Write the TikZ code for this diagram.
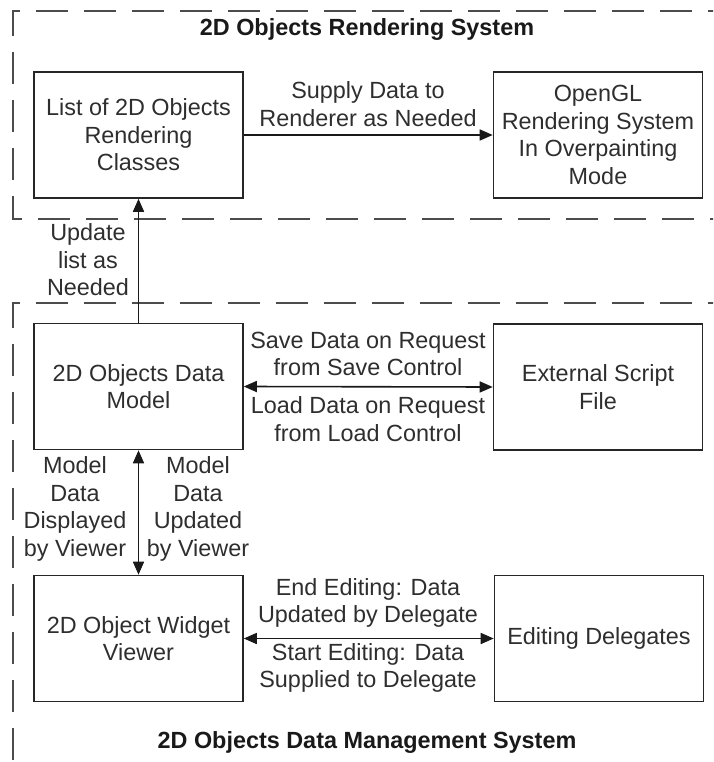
\documentclass[tikz,border=0pt]{standalone}
\usepackage{fontspec}
\setmainfont{Liberation Sans}
\usetikzlibrary{arrows.meta}
\begin{document}
\begin{tikzpicture}[x=1pt,y=-1pt,
  every node/.style={font=\fontsize{23.4}{27.5}\selectfont, text=black!82},
  box/.style={draw=black!85, line width=1.6pt, minimum width=209pt, minimum height=126pt, align=center, inner sep=2pt},
  lbl/.style={align=center, inner sep=0pt},
  title/.style={font=\fontsize{23.4}{27.5}\selectfont\bfseries, text=black!90, inner sep=0pt},
  group/.style={draw=black!70, line width=2.8pt, dash pattern=on 32pt off 16pt},
  link/.style={draw=black!90, line width=1.6pt},
  tip/.style={-{Triangle[length=13pt,width=11pt]}},
  tips/.style={{Triangle[length=13pt,width=11pt]}-{Triangle[length=13pt,width=11pt]}}
]
\useasboundingbox (0,0) rectangle (713,762);
\begin{scope}
\clip (0,0) rectangle (713,762);
% group frames
\draw[group] (740,11) -- (13,11) -- (13,219) -- (740,219);
\draw[group] (740,303) -- (13,303) -- (13,790);
\end{scope}

\node[title] (t1) at (367,30) {2D Objects Rendering System};
\node[title] (t2) at (367,742) {2D Objects Data Management System};

% components
\node[box] (list) at (138.5,135) {List of 2D Objects\\Rendering\\Classes};
\node[box] (gl) at (598,135) {OpenGL\\Rendering System\\In Overpainting\\Mode};
\node[box] (model) at (138.5,386.5) {2D Objects Data\\Model};
\node[box] (script) at (598,387) {External Script\\File};
\node[box] (viewer) at (138.5,638.5) {2D Object Widget\\Viewer};
\node[box] (deleg) at (599,638.5) {Editing Delegates};

% connectors
\draw[link,tip] (list.east) -- (gl.west);
\draw[link,tip] (model.north) -- (list.south);
\draw[link,tips] (model.east) -- (script.west);
\draw[link,tips] (model.south) -- (viewer.north);
\draw[link,tips] (viewer.east) -- (deleg.west);

% connector labels
\node[lbl] (l1) at (368,104) {Supply Data to\\Renderer as Needed};
\node[lbl] (l2) at (88,260) {Update\\list as\\Needed};
\node[lbl] (l3) at (368,354) {Save Data on Request\\from Save Control};
\node[lbl] (l4) at (368,419) {Load Data on Request\\from Load Control};
\node[lbl] (l5) at (75,509) {Model\\Data\\Displayed\\by Viewer};
\node[lbl] (l6) at (198,509) {Model\\Data\\Updated\\by Viewer};
\node[lbl] (l7) at (368,603) {End Editing: Data\\Updated by Delegate};
\node[lbl] (l8) at (368,668) {Start Editing: Data\\Supplied to Delegate};
\end{tikzpicture}
\end{document}
